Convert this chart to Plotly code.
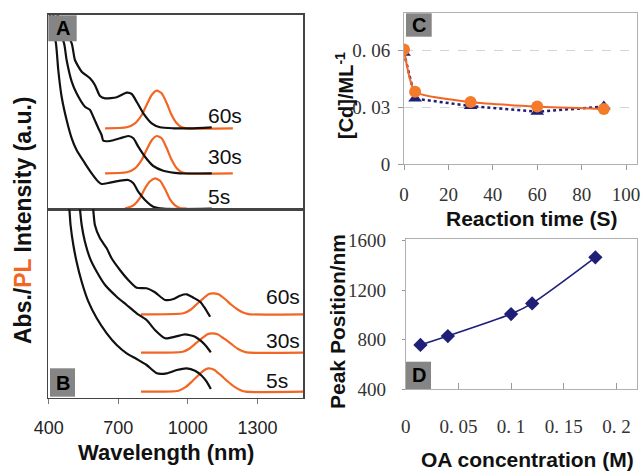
import plotly.graph_objects as go

W, H = 644, 471

# ---------------- DATA ----------------
# Panel A (absorption, black) : wavelength nm / arbitrary units
a5_nm = [400, 404, 431, 441, 455.5, 477, 499, 520, 556, 585, 614, 628, 664, 707, 743, 765, 786, 815, 851, 894, 1103]
a5_au = [205, 196, 166, 139.3, 112.6, 89.3, 71, 59.3, 46, 36, 27.6, 25.3, 26.6, 28.6, 29.3, 26, 17.6, 9.3, 2.6, 0.6, 0.6]
a30_nm = [415, 419, 466, 477, 499, 520, 556, 578, 592, 614, 628, 635, 664, 707, 743, 765, 786, 815, 851, 894, 966, 1103]
a30_au = [205, 195, 166, 149.3, 127.6, 116, 102.6, 99.3, 92.6, 81, 74.3, 68.6, 68.3, 71, 73.3, 71, 62.6, 52.6, 43.3, 38.6, 36, 36]
a60_nm = [431, 435, 499, 513, 542, 578, 599, 621, 643, 693, 736, 758, 779, 808, 844, 880, 938, 1010, 1103]
a60_au = [205, 196, 166, 149.3, 137.6, 131, 124.3, 113.3, 111, 112, 116.6, 115.3, 107.6, 96, 86, 82, 81, 81, 82]

# Panel A (PL, orange)
pa60_nm = [643, 736, 772, 801, 822, 844, 866, 887, 909, 930, 952, 974, 995, 1194]
pa60_au = [81, 82, 86, 94.3, 104.3, 114.3, 118.6, 116, 106, 94.3, 86, 82, 81, 81]
pa30_nm = [643, 736, 772, 801, 822, 844, 866, 887, 909, 930, 952, 974, 995, 1194]
pa30_au = [36, 37, 41, 49.5, 59.5, 69, 73.3, 71, 61, 49.5, 41, 37, 36, 36]
pa5_nm = [729, 765, 795, 815, 837, 858, 880, 902, 923, 945, 966, 995]
pa5_au = [0.8, 4, 12, 21, 28, 31, 28.5, 20, 10, 4, 1.2, 0.8]

# Panel B (absorption, black)
b5_nm = [484, 489, 494, 506, 520, 542, 571, 607, 650, 693, 736, 779, 822, 866, 909, 952, 995, 1031, 1060, 1081, 1099]
b5_au = [195, 187.7, 172.7, 152.7, 136, 116, 96, 79.4, 64.4, 52.7, 44.4, 38.7, 32.7, 24.4, 24.4, 27.7, 29.4, 27, 22, 16, 8.7]
b30_nm = [532, 535, 542, 556, 578, 607, 643, 693, 736, 779, 822, 858, 902, 945, 988, 1031, 1060, 1081, 1099]
b30_au = [195, 187.7, 172.7, 156, 139.4, 126, 112.7, 101, 92.7, 84.4, 77.7, 67.7, 59.4, 61, 63.4, 61, 56, 51, 45.4]
b60_nm = [589, 592, 599, 621, 650, 671, 707, 743, 779, 822, 858, 902, 938, 966, 995, 1024, 1053, 1074, 1096]
b60_au = [195, 187.7, 172.7, 159.4, 149.4, 139.4, 127.7, 117.7, 110, 109.4, 105.4, 97.7, 98.7, 102, 103.4, 100, 96, 89.4, 81]

# Panel B (PL, orange)
pb60_nm = [798, 981, 1010, 1038, 1067, 1089, 1107, 1132, 1160, 1189, 1218, 1247, 1268, 1498]
pb60_au = [83.4, 84.4, 87.7, 93.4, 99.4, 103.4, 104.4, 103.4, 98.7, 92.7, 87.7, 84.4, 83.4, 83.4]
pb30_nm = [798, 978, 1006, 1035, 1064, 1085, 1103, 1128, 1157, 1186, 1215, 1243, 1265, 1498]
pb30_au = [45, 46, 49, 54.5, 60, 63.5, 64.4, 63.5, 59, 54, 49, 46, 45, 45]
pb5_nm = [798, 960, 990, 1019, 1048, 1070, 1089, 1113, 1142, 1171, 1200, 1228, 1250, 1498]
pb5_au = [6, 7, 10.5, 16.5, 23, 27.5, 29.4, 28, 22.5, 16.5, 11, 7.5, 6, 6]

time_labels = ["60s", "30s", "5s"]
wl_ticks = [400, 700, 1000, 1300]

# Panel C
time_s = [0, 5, 30, 60, 90]
cd_orange = [0.0603, 0.0381, 0.0327, 0.0303, 0.0290]
cd_blue = [0.0586, 0.0345, 0.0306, 0.0276, 0.0303]
c_xticks = [0, 20, 40, 60, 80, 100]
c_yticks = [0, 0.03, 0.06]
c_yticktext = ["0", "0. 03", "0. 06"]

# Panel D
oa_conc = [0.014, 0.04, 0.10, 0.12, 0.18]
peak_pos = [756, 828, 1006, 1092, 1464]
d_xticks = [0, 0.05, 0.1, 0.15, 0.2]
d_xticktext = ["0", "0. 05", "0. 1", "0. 15", "0. 2"]
d_yticks = [400, 800, 1200, 1600]

# ---------------- FIGURE ----------------
def PX(x):
    return x / W

def PY(y):
    return 1 - y / H

ORANGE = '#f26522'
NAVY = '#1f1f78'
SANS = 'Liberation Sans, Arial, sans-serif'
SERIF = 'Liberation Serif, Times New Roman, serif'

fig = go.Figure()

def add_line(x, y, color, xa, ya):
    fig.add_trace(go.Scatter(x=x, y=y, mode='lines',
                             line=dict(color=color, width=2.2, shape='spline', smoothing=0.6),
                             xaxis=xa, yaxis=ya, showlegend=False, hoverinfo='skip'))

for xs, ys in [(pa60_nm, pa60_au), (pa30_nm, pa30_au), (pa5_nm, pa5_au)]:
    add_line(xs, ys, ORANGE, 'x', 'y')
for xs, ys in [(a60_nm, a60_au), (a30_nm, a30_au), (a5_nm, a5_au)]:
    add_line(xs, ys, '#111111', 'x', 'y')
for xs, ys in [(pb60_nm, pb60_au), (pb30_nm, pb30_au), (pb5_nm, pb5_au)]:
    add_line(xs, ys, ORANGE, 'x2', 'y2')
for xs, ys in [(b60_nm, b60_au), (b30_nm, b30_au), (b5_nm, b5_au)]:
    add_line(xs, ys, '#111111', 'x2', 'y2')

# Panel C
fig.add_trace(go.Scatter(x=time_s, y=cd_blue, mode='lines+markers',
                         line=dict(color=NAVY, width=2.5, dash='dot'),
                         marker=dict(symbol='triangle-up', size=12, color=NAVY),
                         xaxis='x3', yaxis='y3', showlegend=False))
fig.add_trace(go.Scatter(x=time_s, y=cd_orange, mode='lines+markers',
                         line=dict(color=ORANGE, width=2, shape='spline', smoothing=0.5),
                         marker=dict(symbol='circle', size=12, color='#f47a2c'),
                         xaxis='x3', yaxis='y3', showlegend=False))

# Panel D
fig.add_trace(go.Scatter(x=oa_conc, y=peak_pos, mode='lines+markers',
                         line=dict(color=NAVY, width=1.6, shape='spline', smoothing=0.7),
                         marker=dict(symbol='diamond', size=11, color=NAVY),
                         xaxis='x4', yaxis='y4', showlegend=False))

box_axis = dict(showline=True, mirror=True, linecolor='#444444', linewidth=1.5,
                showgrid=False, zeroline=False, fixedrange=True, automargin=False)
light_axis = dict(showline=True, mirror=True, linecolor='#b0b0b0', linewidth=1,
                  showgrid=False, zeroline=False, fixedrange=True, automargin=False,
                  tickcolor='#999999', tickfont=dict(family=SERIF, size=19, color='#333333'))

fig.update_layout(
    template='none',
    width=W, height=H, margin=dict(l=0, r=0, t=0, b=0, autoexpand=False),
    paper_bgcolor='white', plot_bgcolor='white', showlegend=False,
    xaxis=dict(domain=[PX(48.3), PX(303.3)], range=[398, 1498], anchor='y',
               showticklabels=False, ticks='', **box_axis),
    yaxis=dict(domain=[PY(209.3), PY(14.7)], range=[0, 194.6], anchor='x',
               showticklabels=False, ticks='', **box_axis),
    xaxis2=dict(domain=[PX(48.3), PX(303.3)], range=[398, 1498], anchor='y2',
                tickvals=wl_ticks, ticks='outside', ticklen=5, tickcolor='#777777',
                tickfont=dict(family=SANS, size=18, color='#222222'),
                ticklabelstandoff=8, **box_axis),
    yaxis2=dict(domain=[PY(397.7), PY(209.3)], range=[0, 188.4], anchor='x2',
                showticklabels=False, ticks='', **box_axis),
    xaxis3=dict(domain=[PX(404), PX(636.7)], range=[0, 104.8], anchor='y3',
                tickvals=c_xticks, ticks='outside', ticklen=5,
                ticklabelstandoff=8, **light_axis),
    yaxis3=dict(domain=[PY(164.3), PY(13.3)], range=[0, 0.0793], anchor='x3',
                tickvals=c_yticks, ticktext=c_yticktext, ticks='outside', ticklen=5,
                ticklabelstandoff=4,
                **{**light_axis, 'showgrid': True}, gridcolor='#d4d4d4', griddash='dash'),
    xaxis4=dict(domain=[PX(405.7), PX(637)], range=[0, 0.2195], anchor='y4',
                tickvals=d_xticks, ticktext=d_xticktext, ticks='inside', ticklen=6,
                ticklabelstandoff=20, **light_axis),
    yaxis4=dict(domain=[PY(389), PY(239.3)], range=[400, 1610], anchor='x4',
                tickvals=d_yticks, ticks='outside', ticklen=3,
                ticklabelstandoff=12, **light_axis),
)

ann = []
# sample time labels
for lab, yv in zip(time_labels, [94.3, 52.6, 12.6]):
    ann.append(dict(x=1079, y=yv, xref='x', yref='y', text=lab, showarrow=False,
                    xanchor='left', yanchor='middle',
                    font=dict(family=SANS, size=21, color='#111111')))
for lab, yv in zip(time_labels, [101.7, 57.7, 17.7]):
    ann.append(dict(x=1327, y=yv, xref='x2', yref='y2', text=lab, showarrow=False,
                    xanchor='left', yanchor='middle',
                    font=dict(family=SANS, size=21, color='#111111')))

# axis titles
def title(text, x, y, size, angle=0):
    ann.append(dict(x=PX(x), y=PY(y), xref='paper', yref='paper', text=text,
                    showarrow=False, xanchor='center', yanchor='middle', textangle=angle,
                    font=dict(family=SANS, size=size, color='#111111')))

title("<b>Abs./<span style='color:%s'>PL</span> Intensity (a.u.)</b>" % ORANGE, 23, 220, 23, -90)
title("<b>Wavelength (nm)</b>", 166, 452, 22)
title("<b>Reaction time (S)</b>", 532, 218, 21)
title("<b>[Cd]/ML<sup>-1</sup></b>", 345, 96, 20, -90)
title("<b>Peak Position/nm</b>", 337, 322, 21, -90)
title("<b>OA concentration (M)</b>", 527, 459, 21)

# panel letter boxes
shapes = []
for letter, (x0, y0, x1, y1) in [('A', (48.3, 15.3, 76.7, 41.3)),
                                 ('B', (50, 368.3, 75, 396.7)),
                                 ('C', (406, 13.3, 431.7, 36.7)),
                                 ('D', (406, 361.7, 431, 389))]:
    shapes.append(dict(type='rect', xref='paper', yref='paper',
                       x0=PX(x0), x1=PX(x1), y0=PY(y1), y1=PY(y0),
                       fillcolor='#858585', line=dict(width=0), layer='above'))
    ann.append(dict(x=PX((x0 + x1) / 2), y=PY((y0 + y1) / 2), xref='paper', yref='paper',
                    text='<b>%s</b>' % letter, showarrow=False, xanchor='center', yanchor='middle',
                    font=dict(family=SANS, size=20, color='#000000')))

fig.update_layout(annotations=ann, shapes=shapes)
fig.write_html("out.html", config={'displayModeBar': False, 'staticPlot': True},
               post_script="document.body.style.margin='0';document.body.style.overflow='hidden';")
